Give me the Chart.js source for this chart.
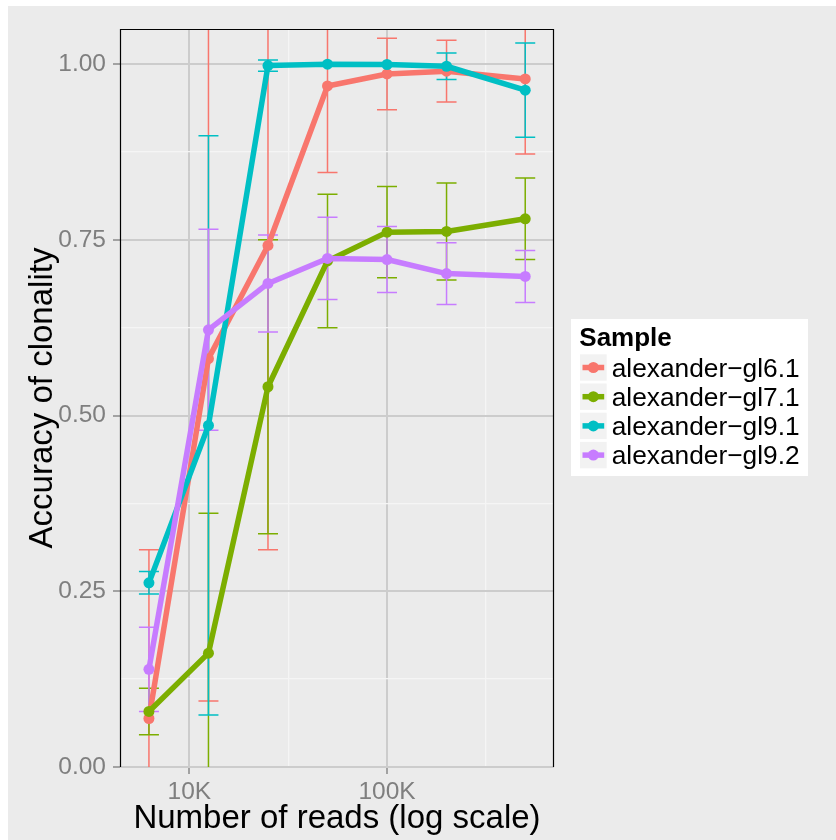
<!DOCTYPE html>
<html>
<head>
<meta charset="utf-8">
<script src="https://cdn.jsdelivr.net/npm/chart.js@4.4.1/dist/chart.umd.min.js"></script>
<style>
  html, body { margin: 0; padding: 0; background: #ffffff; }
  #wrap { position: absolute; left: 8px; top: 6px; width: 828px; height: 834px; background: #EBEBEB; }
  canvas { display: block; }
</style>
</head>
<body>
<div id="wrap"><canvas id="chart" width="828" height="834"></canvas></div>
<script>
// Number of reads sampled (x, log scale)
const reads = [6250, 12500, 25000, 50000, 100000, 200000, 500000];

// Sample names and colours
const sampleNames = ['alexander\u2212gl6.1', 'alexander\u2212gl7.1', 'alexander\u2212gl9.1', 'alexander\u2212gl9.2'];
const sampleColors = ['#F8766D', '#7CAE00', '#00BFC4', '#C77CFF'];

// Mean accuracy of clonality and half-width of the error bar for each sample
const gl61Accuracy = [0.069, 0.581, 0.742, 0.969, 0.986, 0.990, 0.979];
const gl61Error    = [0.240, 0.487, 0.433, 0.123, 0.051, 0.044, 0.107];

const gl71Accuracy = [0.079, 0.162, 0.541, 0.720, 0.761, 0.762, 0.780];
const gl71Error    = [0.033, 0.199, 0.209, 0.095, 0.065, 0.069, 0.058];

const gl91Accuracy = [0.262, 0.486, 0.998, 1.000, 0.9995, 0.997, 0.963];
const gl91Error    = [0.016, 0.412, 0.008, 0.000, 0.000, 0.019, 0.067];

const gl92Accuracy = [0.139, 0.622, 0.688, 0.7235, 0.722, 0.702, 0.698];
const gl92Error    = [0.060, 0.143, 0.069, 0.0585, 0.047, 0.044, 0.037];

// Axis breaks
const xMajorTicks = [10000, 100000];
const xMajorLabels = ['10K', '100K'];
const xMinorTicks = [Math.pow(10, 4.5), Math.pow(10, 5.5)];
const yMajorTicks = [0, 0.25, 0.5, 0.75, 1.0];
const yMajorLabels = ['0.00', '0.25', '0.50', '0.75', '1.00'];
const yMinorTicks = [0.125, 0.375, 0.625, 0.875];

const xLimits = [4462, 699000];
const yLimits = [0, 1.05];

const xTitle = 'Number of reads (log scale)';
const yTitle = 'Accuracy of clonality';
const legendTitle = 'Sample';

const FONT = '"Liberation Sans", Arial, Helvetica, sans-serif';
Chart.defaults.font.family = FONT;

const accuracies = [gl61Accuracy, gl71Accuracy, gl91Accuracy, gl92Accuracy];
const errors = [gl61Error, gl71Error, gl91Error, gl92Error];

const datasets = sampleNames.map((name, i) => ({
  label: name,
  data: reads.map((r, j) => ({ x: r, y: accuracies[i][j] })),
  errors: errors[i],
  borderColor: sampleColors[i],
  backgroundColor: sampleColors[i],
  pointBackgroundColor: sampleColors[i],
  pointBorderWidth: 0,
  pointRadius: 5.5,
  pointHoverRadius: 5.5,
  borderWidth: 5.5,
  borderJoinStyle: 'round',
  tension: 0,
  fill: false,
  order: sampleNames.length - i
}));

function near(list, v) {
  return list.findIndex(t => Math.abs(t - v) <= Math.abs(t) * 1e-9 + 1e-12);
}

// Error bars, drawn under the lines and clipped to the panel
const errorBars = {
  id: 'errorBars',
  beforeDatasetsDraw(chart) {
    const { ctx, chartArea, scales } = chart;
    ctx.save();
    ctx.beginPath();
    ctx.rect(chartArea.left, chartArea.top, chartArea.right - chartArea.left, chartArea.bottom - chartArea.top);
    ctx.clip();
    ctx.lineWidth = 1.5;
    chart.data.datasets.forEach((ds, i) => {
      ctx.strokeStyle = ds.borderColor;
      ds.data.forEach((p, j) => {
        const e = ds.errors[j];
        const x = scales.x.getPixelForValue(p.x);
        const yLo = scales.y.getPixelForValue(p.y - e);
        const yHi = scales.y.getPixelForValue(p.y + e);
        ctx.beginPath();
        ctx.moveTo(x, yLo); ctx.lineTo(x, yHi);
        ctx.moveTo(x - 10, yLo); ctx.lineTo(x + 10, yLo);
        ctx.moveTo(x - 10, yHi); ctx.lineTo(x + 10, yHi);
        ctx.stroke();
      });
    });
    ctx.restore();
  }
};

// Panel border, axis titles and legend
const decorations = {
  id: 'decorations',
  afterDraw(chart) {
    const { ctx, chartArea } = chart;
    const { left, right, top, bottom } = chartArea;
    ctx.save();
    // panel border (top, left, right)
    ctx.strokeStyle = '#000000';
    ctx.lineWidth = 1.2;
    ctx.beginPath();
    ctx.moveTo(left + 0.5, bottom);
    ctx.lineTo(left + 0.5, top + 0.5);
    ctx.lineTo(right - 0.5, top + 0.5);
    ctx.lineTo(right - 0.5, bottom);
    ctx.stroke();

    // axis titles
    ctx.fillStyle = '#000000';
    ctx.font = '33px ' + FONT;
    ctx.textAlign = 'center';
    ctx.textBaseline = 'alphabetic';
    ctx.fillText(xTitle, (left + right) / 2, 822);
    ctx.save();
    ctx.translate(44.3, (top + bottom) / 2);
    ctx.rotate(-Math.PI / 2);
    ctx.fillText(yTitle, 0, 0);
    ctx.restore();

    // legend
    const lx = 563, ly = 313, lw = 237, lh = 157;
    ctx.fillStyle = '#ffffff';
    ctx.fillRect(lx, ly, lw, lh);
    ctx.fillStyle = '#000000';
    ctx.textAlign = 'left';
    ctx.font = 'bold 26px ' + FONT;
    ctx.fillText(legendTitle, 571.3, 339.7);
    ctx.font = '26.3px ' + FONT;
    chart.data.datasets.forEach((ds, k) => {
      const rowTop = 348.3 + k * 29.2;
      const kx = 572, kw = 26.7, kh = 26.4;
      ctx.fillStyle = '#F2F2F2';
      ctx.fillRect(kx, rowTop, kw, kh);
      const cy = rowTop + kh / 2;
      ctx.strokeStyle = ds.borderColor;
      ctx.lineWidth = 5.5;
      ctx.beginPath();
      ctx.moveTo(kx + 2.5, cy);
      ctx.lineTo(kx + kw - 2.5, cy);
      ctx.stroke();
      ctx.fillStyle = ds.borderColor;
      ctx.beginPath();
      ctx.arc(kx + kw / 2, cy, 5.5, 0, Math.PI * 2);
      ctx.fill();
      ctx.fillStyle = '#000000';
      ctx.fillText(ds.label, 603.7, 370.7 + k * 29.2);
    });
    ctx.restore();
  }
};

const MAJOR_GRID = '#CCCCCC';
const MINOR_GRID = '#F5F5F5';
const TICK_COLOR = '#8A8A8A';

new Chart(document.getElementById('chart'), {
  type: 'line',
  data: { datasets },
  options: {
    responsive: false,
    animation: false,
    events: [],
    layout: { padding: { left: 0, top: 23, right: 282, bottom: 0 } },
    plugins: { legend: { display: false }, tooltip: { enabled: false } },
    scales: {
      x: {
        type: 'logarithmic',
        bounds: 'data',
        min: xLimits[0],
        max: xLimits[1],
        afterBuildTicks(axis) {
          axis.ticks = xMajorTicks.concat(xMinorTicks).sort((a, b) => a - b).map(v => ({ value: v }));
        },
        afterFit(axis) { axis.height = 73; },
        border: { display: false },
        grid: {
          color: c => (c.tick && near(xMajorTicks, c.tick.value) >= 0) ? MAJOR_GRID : MINOR_GRID,
          lineWidth: c => (c.tick && near(xMajorTicks, c.tick.value) >= 0) ? 2 : 1.3,
          tickColor: c => (c.tick && near(xMajorTicks, c.tick.value) >= 0) ? TICK_COLOR : 'rgba(0,0,0,0)',
          tickWidth: 1.5,
          tickLength: 7,
          drawTicks: true
        },
        ticks: {
          autoSkip: false,
          maxRotation: 0,
          padding: 4,
          color: '#7F7F7F',
          font: { size: 24.5, family: FONT },
          callback: v => { const k = near(xMajorTicks, v); return k >= 0 ? xMajorLabels[k] : ''; }
        }
      },
      y: {
        type: 'linear',
        bounds: 'data',
        min: yLimits[0],
        max: yLimits[1],
        afterBuildTicks(axis) {
          axis.ticks = yMajorTicks.concat(yMinorTicks).sort((a, b) => a - b).map(v => ({ value: v }));
        },
        afterFit(axis) { axis.width = 112; },
        border: { display: false },
        grid: {
          color: c => (c.tick && near(yMajorTicks, c.tick.value) >= 0) ? MAJOR_GRID : MINOR_GRID,
          lineWidth: c => (c.tick && near(yMajorTicks, c.tick.value) >= 0) ? 2 : 1.3,
          tickColor: c => (c.tick && near(yMajorTicks, c.tick.value) >= 0) ? TICK_COLOR : 'rgba(0,0,0,0)',
          tickWidth: 1.5,
          tickLength: 7,
          drawTicks: true
        },
        ticks: {
          autoSkip: false,
          padding: 7,
          color: '#7F7F7F',
          font: { size: 24.5, family: FONT },
          callback: v => { const k = near(yMajorTicks, v); return k >= 0 ? yMajorLabels[k] : ''; }
        }
      }
    }
  },
  plugins: [errorBars, decorations]
});
</script>
</body>
</html>
